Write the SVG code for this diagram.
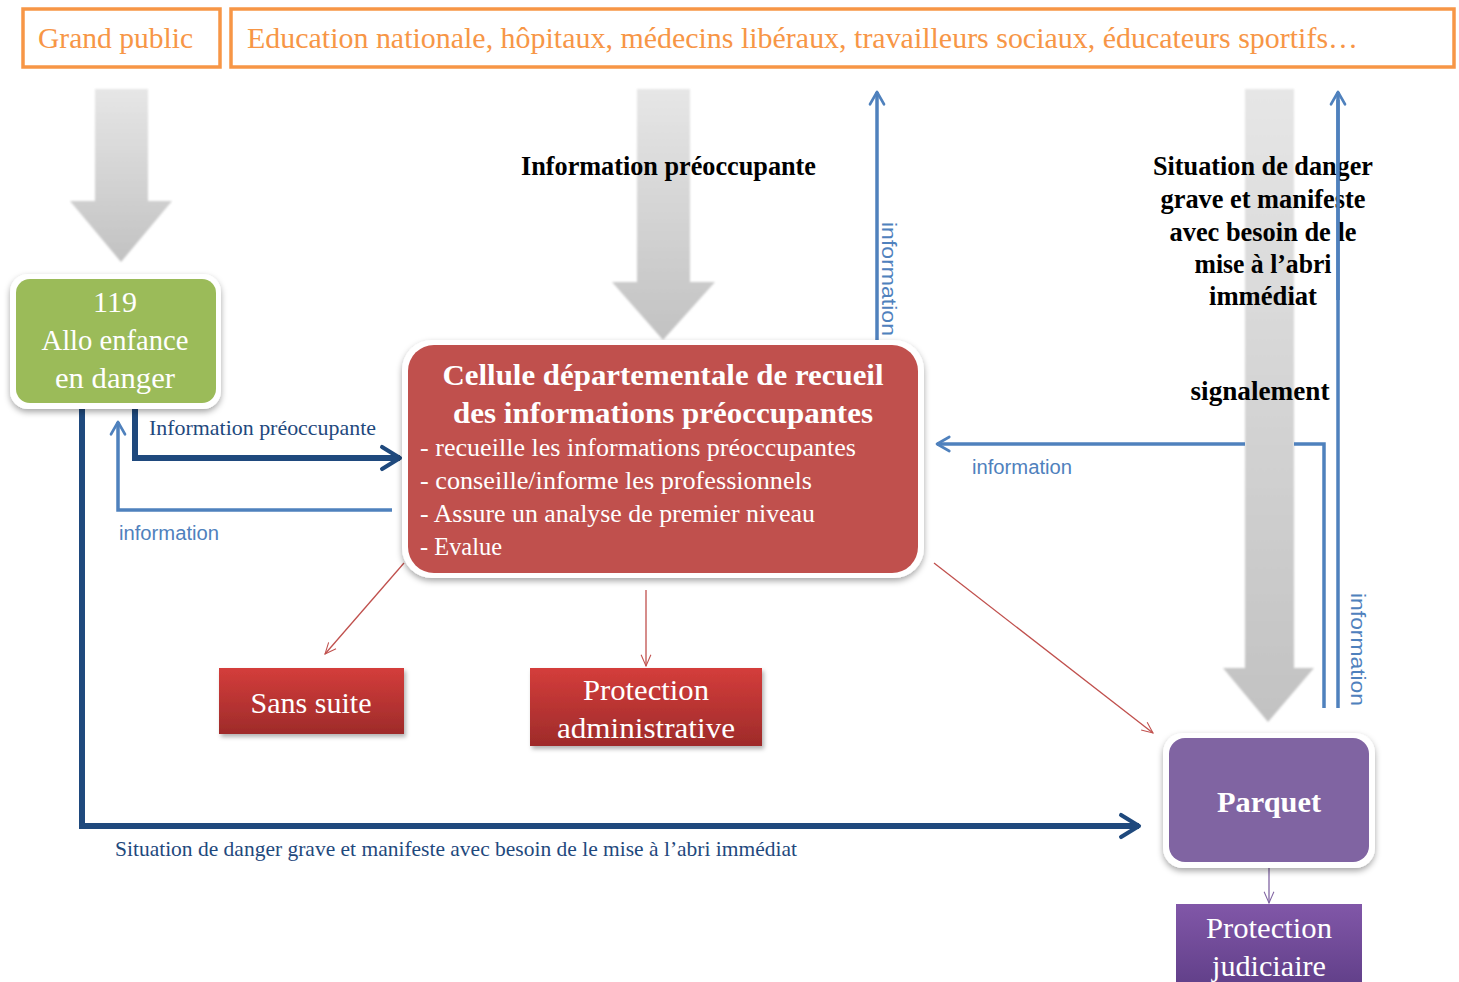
<svg xmlns="http://www.w3.org/2000/svg" width="1459" height="982" viewBox="0 0 1459 982">
<defs>
<style>
.serif{font-family:"Liberation Serif","DejaVu Serif",serif}
.sans{font-family:"Liberation Sans",Arial,sans-serif}
.top{fill:#F79646;font-size:29px}
.box-top{fill:#fff;stroke:#F79646;stroke-width:3.5}
.white{fill:#fff}
.bold{font-weight:bold}
.blk{fill:#000;font-size:27px;font-weight:bold}
.dblue{fill:#1F497D}
.lblue{fill:#4F81BD;font-size:20px}
.dk{stroke:#1F497D;stroke-width:6;fill:none}
.lt{stroke:#4F81BD;stroke-width:3.5;fill:none}
.red{stroke:#C0504D;stroke-width:1.3;fill:none}
.pur{stroke:#8064A2;stroke-width:1.3;fill:none}
</style>
<linearGradient id="gray" x1="0" y1="0" x2="0" y2="1">
<stop offset="0" stop-color="#e6e6e6"/><stop offset="1" stop-color="#c2c2c2"/>
</linearGradient>
<linearGradient id="redg" x1="0" y1="0" x2="0" y2="1">
<stop offset="0" stop-color="#D43D3B"/><stop offset="1" stop-color="#9E2B2A"/>
</linearGradient>
<linearGradient id="purg" x1="0" y1="0" x2="0" y2="1">
<stop offset="0" stop-color="#8157A8"/><stop offset="1" stop-color="#5E3D86"/>
</linearGradient>
<filter id="sh" x="-10%" y="-10%" width="125%" height="130%">
<feDropShadow dx="0" dy="3" stdDeviation="3" flood-color="#000" flood-opacity="0.35"/>
</filter>
<filter id="sh2" x="-10%" y="-10%" width="125%" height="130%">
<feDropShadow dx="2" dy="3" stdDeviation="2" flood-color="#000" flood-opacity="0.3"/>
</filter>
<filter id="soft" x="-10%" y="-5%" width="120%" height="110%">
<feGaussianBlur stdDeviation="0.8"/>
</filter>
<marker id="chevDk" viewBox="0 0 10 10" refX="8" refY="5" markerWidth="4.6" markerHeight="5.4" orient="auto" markerUnits="strokeWidth">
<path d="M1.5,1 L8,5 L1.5,9" fill="none" stroke="#1F497D" stroke-width="1.5" stroke-linecap="round" stroke-linejoin="round"/>
</marker>
<marker id="chevLt" viewBox="0 0 10 10" refX="8" refY="5" markerWidth="5" markerHeight="5.8" orient="auto" markerUnits="strokeWidth">
<path d="M1,1 L8,5 L1,9" fill="none" stroke="#4F81BD" stroke-width="1.5" stroke-linecap="round" stroke-linejoin="round"/>
</marker>
<marker id="opRed" viewBox="0 0 20 20" refX="18" refY="10" markerWidth="14" markerHeight="14" orient="auto" markerUnits="userSpaceOnUse">
<path d="M2,3 L18,10 L2,17" fill="none" stroke="#C0504D" stroke-width="1.5"/>
</marker>
<marker id="opPur" viewBox="0 0 20 20" refX="18" refY="10" markerWidth="14" markerHeight="14" orient="auto" markerUnits="userSpaceOnUse">
<path d="M2,3 L18,10 L2,17" fill="none" stroke="#8064A2" stroke-width="1.5"/>
</marker>
</defs>
<rect width="1459" height="982" fill="#fff"/>

<g id="grand-public">
<rect class="box-top" x="23" y="9" width="197" height="58"/>
<text class="serif top" x="38" y="48" textLength="155" lengthAdjust="spacingAndGlyphs">Grand public</text>
</g>
<g id="professionnels">
<rect class="box-top" x="231" y="9" width="1223" height="58"/>
<text class="serif top" x="247" y="48" textLength="1111" lengthAdjust="spacingAndGlyphs">Education nationale, hôpitaux, médecins libéraux, travailleurs sociaux, éducateurs sportifs…</text>
</g>

<g id="big-arrows" filter="url(#soft)">
<path d="M95,89 H148 V201 H172 L121,262 L70,201 H95 Z" fill="url(#gray)"/>
<path d="M637,89 H690 V282 H715 L663,340 L612,282 H637 Z" fill="url(#gray)"/>
<path d="M1245,89 H1294 V668 H1314 L1268,722 L1223,668 H1245 Z" fill="url(#gray)"/>
</g>

<g id="connectors">
<path class="dk" d="M135,408 V458 H400" marker-end="url(#chevDk)"/>
<path class="dk" d="M82,408 V826 H1139" marker-end="url(#chevDk)"/>
<path class="lt" d="M392,510 H118 V422" marker-end="url(#chevLt)"/>
<path class="lt" d="M877,340 V92" marker-end="url(#chevLt)"/>
<path class="lt" d="M1338,708 V92" marker-end="url(#chevLt)"/>
<path class="lt" d="M1324,708 V444 H1294"/>
<path class="lt" d="M1245,444 H937" marker-end="url(#chevLt)"/>
<path class="red" d="M404,563 L325,654" marker-end="url(#opRed)"/>
<path class="red" d="M646,590 V666" marker-end="url(#opRed)"/>
<path class="red" d="M934,563 L1153,733" marker-end="url(#opRed)"/>
<path class="pur" d="M1269,866 V903" marker-end="url(#opPur)"/>
</g>

<g id="labels">
<text class="serif blk" x="521" y="175" textLength="295" lengthAdjust="spacingAndGlyphs">Information préoccupante</text>
<text class="serif dblue" x="149" y="435" font-size="21" textLength="227" lengthAdjust="spacingAndGlyphs">Information préoccupante</text>
<text class="sans lblue" x="119" y="540" textLength="100" lengthAdjust="spacingAndGlyphs">information</text>
<text class="sans lblue" x="972" y="474" textLength="100" lengthAdjust="spacingAndGlyphs">information</text>
<text class="sans lblue" transform="translate(882,222) rotate(90)" textLength="114" lengthAdjust="spacingAndGlyphs">information</text>
<text class="sans lblue" transform="translate(1351,593) rotate(90)" textLength="113" lengthAdjust="spacingAndGlyphs">information</text>
<text class="serif dblue" x="115" y="856" font-size="21" textLength="682" lengthAdjust="spacingAndGlyphs">Situation de danger grave et manifeste avec besoin de le mise à l’abri immédiat</text>
<g class="serif blk" text-anchor="middle">
<text x="1263" y="175" textLength="220" lengthAdjust="spacingAndGlyphs">Situation de danger</text>
<text x="1263" y="208" textLength="205" lengthAdjust="spacingAndGlyphs">grave et manifeste</text>
<text x="1263" y="241" textLength="187" lengthAdjust="spacingAndGlyphs">avec besoin de le</text>
<text x="1263" y="273" textLength="137" lengthAdjust="spacingAndGlyphs">mise à l’abri</text>
<text x="1263" y="305" textLength="108" lengthAdjust="spacingAndGlyphs">immédiat</text>
<text x="1260" y="400" textLength="139" lengthAdjust="spacingAndGlyphs">signalement</text>
</g>
</g>
<path class="lt" d="M1338,300 V100"/>

<g id="allo-119">
<rect x="10" y="274" width="211" height="135" rx="18" fill="#fff" filter="url(#sh)"/>
<rect x="16" y="279" width="200" height="124" rx="14" fill="#9BBB59"/>
<g class="serif white" font-size="30" text-anchor="middle">
<text x="115" y="312">119</text>
<text x="115" y="350" textLength="147" lengthAdjust="spacingAndGlyphs">Allo enfance</text>
<text x="115" y="388" textLength="120" lengthAdjust="spacingAndGlyphs">en danger</text>
</g>
</g>

<g id="cellule">
<rect x="402" y="340" width="522" height="238" rx="30" fill="#fff" filter="url(#sh)"/>
<rect x="408" y="345" width="510" height="228" rx="26" fill="#C0504D"/>
<g class="serif white bold" font-size="30" text-anchor="middle">
<text x="663" y="385" textLength="441" lengthAdjust="spacingAndGlyphs">Cellule départementale de recueil</text>
<text x="663" y="423" textLength="420" lengthAdjust="spacingAndGlyphs">des informations préoccupantes</text>
</g>
<g class="serif white" font-size="25">
<text x="420" y="456" textLength="436" lengthAdjust="spacingAndGlyphs">- recueille les informations préoccupantes</text>
<text x="420" y="489" textLength="392" lengthAdjust="spacingAndGlyphs">- conseille/informe les professionnels</text>
<text x="420" y="522" textLength="395" lengthAdjust="spacingAndGlyphs">- Assure un analyse de premier niveau</text>
<text x="420" y="555" textLength="82" lengthAdjust="spacingAndGlyphs">- Evalue</text>
</g>
</g>

<g id="sans-suite">
<rect x="219" y="668" width="185" height="66" fill="url(#redg)" filter="url(#sh2)"/>
<text class="serif white" x="311" y="713" font-size="29" text-anchor="middle" textLength="121" lengthAdjust="spacingAndGlyphs">Sans suite</text>
</g>

<g id="protection-administrative">
<rect x="530" y="668" width="232" height="78" fill="url(#redg)" filter="url(#sh2)"/>
<g class="serif white" font-size="29" text-anchor="middle">
<text x="646" y="700" textLength="126" lengthAdjust="spacingAndGlyphs">Protection</text>
<text x="646" y="738" textLength="178" lengthAdjust="spacingAndGlyphs">administrative</text>
</g>
</g>

<g id="parquet">
<rect x="1163" y="733" width="212" height="135" rx="20" fill="#fff" filter="url(#sh)"/>
<rect x="1169" y="738" width="200" height="124" rx="16" fill="#8064A2"/>
<text class="serif white bold" x="1269" y="812" font-size="30" text-anchor="middle" textLength="104" lengthAdjust="spacingAndGlyphs">Parquet</text>
</g>

<g id="protection-judiciaire">
<rect x="1176" y="904" width="186" height="90" fill="url(#purg)"/>
<g class="serif white" font-size="29" text-anchor="middle">
<text x="1269" y="938" textLength="126" lengthAdjust="spacingAndGlyphs">Protection</text>
<text x="1269" y="976" textLength="114" lengthAdjust="spacingAndGlyphs">judiciaire</text>
</g>
</g>
</svg>
